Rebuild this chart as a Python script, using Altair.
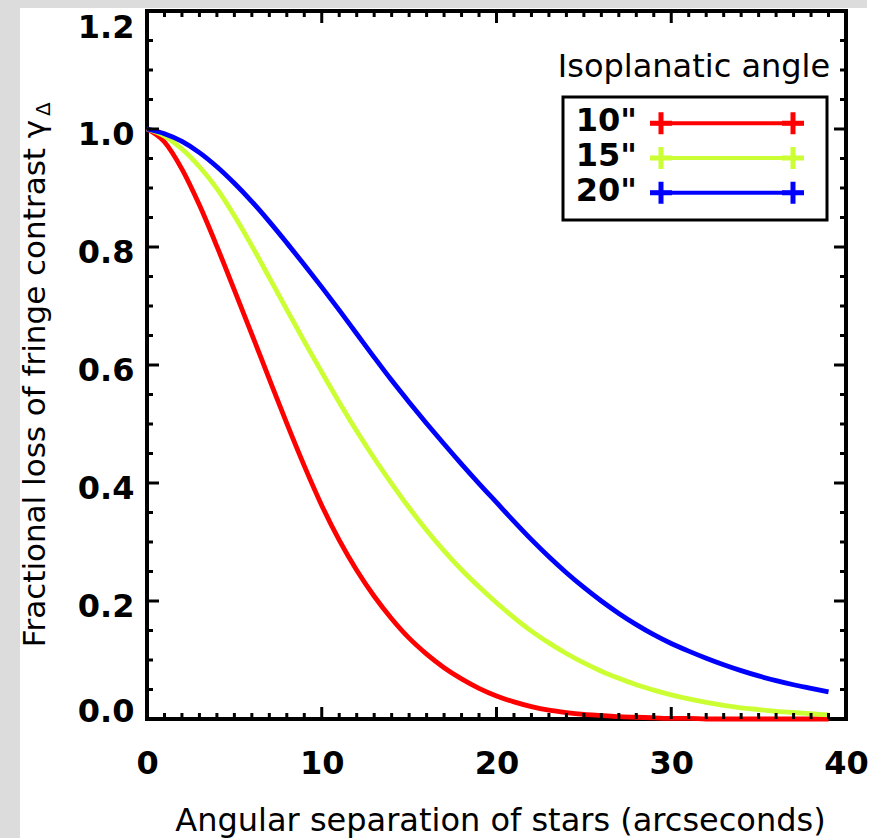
import altair as alt
import pandas as pd

# Angular separation of the two stars (arcsec)
separation = list(range(40))

# Fractional loss of fringe contrast for each isoplanatic angle
gamma_10 = [1.000, 0.978, 0.932, 0.871, 0.801, 0.727, 0.652, 0.576, 0.501, 0.429,
            0.362, 0.303, 0.252, 0.208, 0.170, 0.137, 0.110, 0.087, 0.068, 0.052,
            0.039, 0.029, 0.021, 0.015, 0.011, 0.008, 0.006, 0.004, 0.003, 0.002,
            0.001, 0.001, 0.000, 0.000, 0.000, 0.000, 0.000, 0.000, 0.000, 0.000]
gamma_15 = [1.000, 0.988, 0.966, 0.936, 0.899, 0.853, 0.802, 0.748, 0.694, 0.640,
            0.588, 0.537, 0.488, 0.442, 0.399, 0.358, 0.320, 0.285, 0.253, 0.224,
            0.197, 0.172, 0.149, 0.129, 0.111, 0.095, 0.081, 0.069, 0.058, 0.049,
            0.041, 0.034, 0.028, 0.023, 0.019, 0.016, 0.013, 0.011, 0.009, 0.007]
gamma_20 = [1.000, 0.992, 0.979, 0.960, 0.936, 0.908, 0.877, 0.843, 0.807, 0.770,
            0.732, 0.693, 0.653, 0.613, 0.574, 0.537, 0.501, 0.466, 0.432, 0.399,
            0.367, 0.335, 0.304, 0.275, 0.248, 0.223, 0.200, 0.179, 0.160, 0.143,
            0.128, 0.115, 0.103, 0.092, 0.082, 0.073, 0.065, 0.058, 0.052, 0.046]

angles = ['10"', '15"', '20"']
colors = ["#ff0000", "#ccff33", "#0000ff"]

x_major = [0, 10, 20, 30, 40]
x_minor = [v for v in range(41) if v % 10 != 0]
y_major = [0.0, 0.2, 0.4, 0.6, 0.8, 1.0, 1.2]
y_minor = [round(0.05 * k, 2) for k in range(25) if k % 4 != 0]

W, H = 699, 708
FONT = "DejaVu Sans"

curves = pd.DataFrame(
    [{"sep": s, "gamma": g, "angle": a}
     for a, series in zip(angles, [gamma_10, gamma_15, gamma_20])
     for s, g in zip(separation, series)]
)

xs = alt.Scale(domain=[0, 40], nice=False, zero=False)
ys = alt.Scale(domain=[0, 1.2], nice=False, zero=False)
cs = alt.Scale(domain=angles, range=colors)
one = pd.DataFrame({"k": [0]})

x_axis = alt.Axis(values=x_major, format="d", domain=False, ticks=False, tickSize=0,
                  grid=False, labelFlush=False, labelPadding=29,
                  labelFont=FONT, labelFontWeight="bold", labelFontSize=32,
                  labelColor="black",
                  title="Angular separation of stars (arcseconds)",
                  titleFont=FONT, titleFontWeight="normal", titleFontSize=32,
                  titleColor="black", titleX=353, titleY=111,
                  titleBaseline="alphabetic", titleAlign="center")
y_axis = alt.Axis(values=y_major, format=".1f", domain=False, ticks=False, tickSize=0,
                  grid=False, labelFlush=True, labelOffset=5.5, labelFlushOffset=4,
                  labelPadding=13,
                  labelFont=FONT, labelFontWeight="bold", labelFontSize=32,
                  labelColor="black",
                  title="Fractional loss of fringe contrast γ",
                  titleFont=FONT, titleFontWeight="normal", titleFontSize=31,
                  titleColor="black", titleX=-103, titleY=372, titleAngle=270,
                  titleBaseline="alphabetic", titleAlign="center")

# light grey margins at the top and left of the page
grey_left = alt.Chart(one).mark_rect(color="#dcdcdc").encode(
    x=alt.value(-147), x2=alt.value(-127), y=alt.value(-11), y2=alt.value(827))
grey_top = alt.Chart(one).mark_rect(color="#dcdcdc").encode(
    x=alt.value(-147), x2=alt.value(720), y=alt.value(-11), y2=alt.value(-3))

lines = alt.Chart(curves).mark_line(strokeWidth=4.8, interpolate="monotone").encode(
    x=alt.X("sep:Q", scale=xs, axis=x_axis),
    y=alt.Y("gamma:Q", scale=ys, axis=y_axis),
    color=alt.Color("angle:N", scale=cs, legend=None),
)

# subscript of the y-axis symbol
delta = alt.Chart(one).mark_text(
    text="Δ", font=FONT, fontSize=20, angle=270, align="left", baseline="alphabetic"
).encode(x=alt.value(-97), y=alt.value(105))


def tick_layer(values, axis, side, length):
    df = pd.DataFrame({"sep": values, "gamma": values})
    base = alt.Chart(df).mark_rule(color="black", strokeWidth=3)
    if axis == "x":
        pos = alt.X("sep:Q", scale=xs, axis=x_axis)
        if side == "bottom":
            return base.encode(x=pos, y=alt.value(H), y2=alt.value(H - length))
        return base.encode(x=pos, y=alt.value(0), y2=alt.value(length))
    pos = alt.Y("gamma:Q", scale=ys, axis=y_axis)
    if side == "left":
        return base.encode(y=pos, x=alt.value(0), x2=alt.value(length))
    return base.encode(y=pos, x=alt.value(W), x2=alt.value(W - length))


ticks = [
    tick_layer(x_major, "x", "bottom", 12), tick_layer(x_minor, "x", "bottom", 6),
    tick_layer(x_major, "x", "top", 12), tick_layer(x_minor, "x", "top", 6),
    tick_layer(y_major, "y", "left", 12), tick_layer(y_minor, "y", "left", 6),
    tick_layer(y_major, "y", "right", 12), tick_layer(y_minor, "y", "right", 6),
]

# legend box drawn inside the plot frame
legend_rows = pd.DataFrame({
    "angle": angles,
    "ypix": [112.3 + 34.7 * i for i in range(len(angles))],
})
legend_marks = pd.DataFrame(
    [{"angle": a, "ypix": 112.3 + 34.7 * i, "xpix": xp}
     for i, a in enumerate(angles) for xp in (514, 646)]
)

legend_box = alt.Chart(one).mark_rect(fill="white", stroke="black", strokeWidth=3).encode(
    x=alt.value(416), x2=alt.value(680), y=alt.value(86), y2=alt.value(209))
legend_head = alt.Chart(one).mark_text(
    text="Isoplanatic angle", font=FONT, fontSize=32, align="center", baseline="alphabetic",
    color="black").encode(x=alt.value(547), y=alt.value(66))
legend_text = alt.Chart(legend_rows).mark_text(
    font=FONT, fontSize=32, fontWeight="bold", align="right", baseline="middle", dy=-2,
    color="black").encode(
    x=alt.value(490), y=alt.Y("ypix:Q", scale=None, axis=None), text="angle:N")
legend_lines = alt.Chart(legend_rows).mark_rule(strokeWidth=4).encode(
    x=alt.value(503), x2=alt.value(656), y=alt.Y("ypix:Q", scale=None, axis=None),
    color=alt.Color("angle:N", scale=cs, legend=None))
legend_plus = alt.Chart(legend_marks).mark_point(
    shape="M-1,0L1,0M0,-1L0,1", filled=False, strokeWidth=5, size=484, opacity=1).encode(
    x=alt.X("xpix:Q", scale=None, axis=None), y=alt.Y("ypix:Q", scale=None, axis=None),
    color=alt.Color("angle:N", scale=cs, legend=None))

chart = alt.layer(
    grey_left, grey_top, lines, *ticks, delta,
    legend_box, legend_head, legend_text, legend_lines, legend_plus,
).properties(
    width=W, height=H,
    padding={"left": 147, "top": 11, "right": 38, "bottom": 119},
    autosize=alt.AutoSizeParams(type="none"),
    background="white",
).configure_view(stroke="black", strokeWidth=4)

chart.save("out.html", embed_options={"renderer": "svg", "actions": False})
